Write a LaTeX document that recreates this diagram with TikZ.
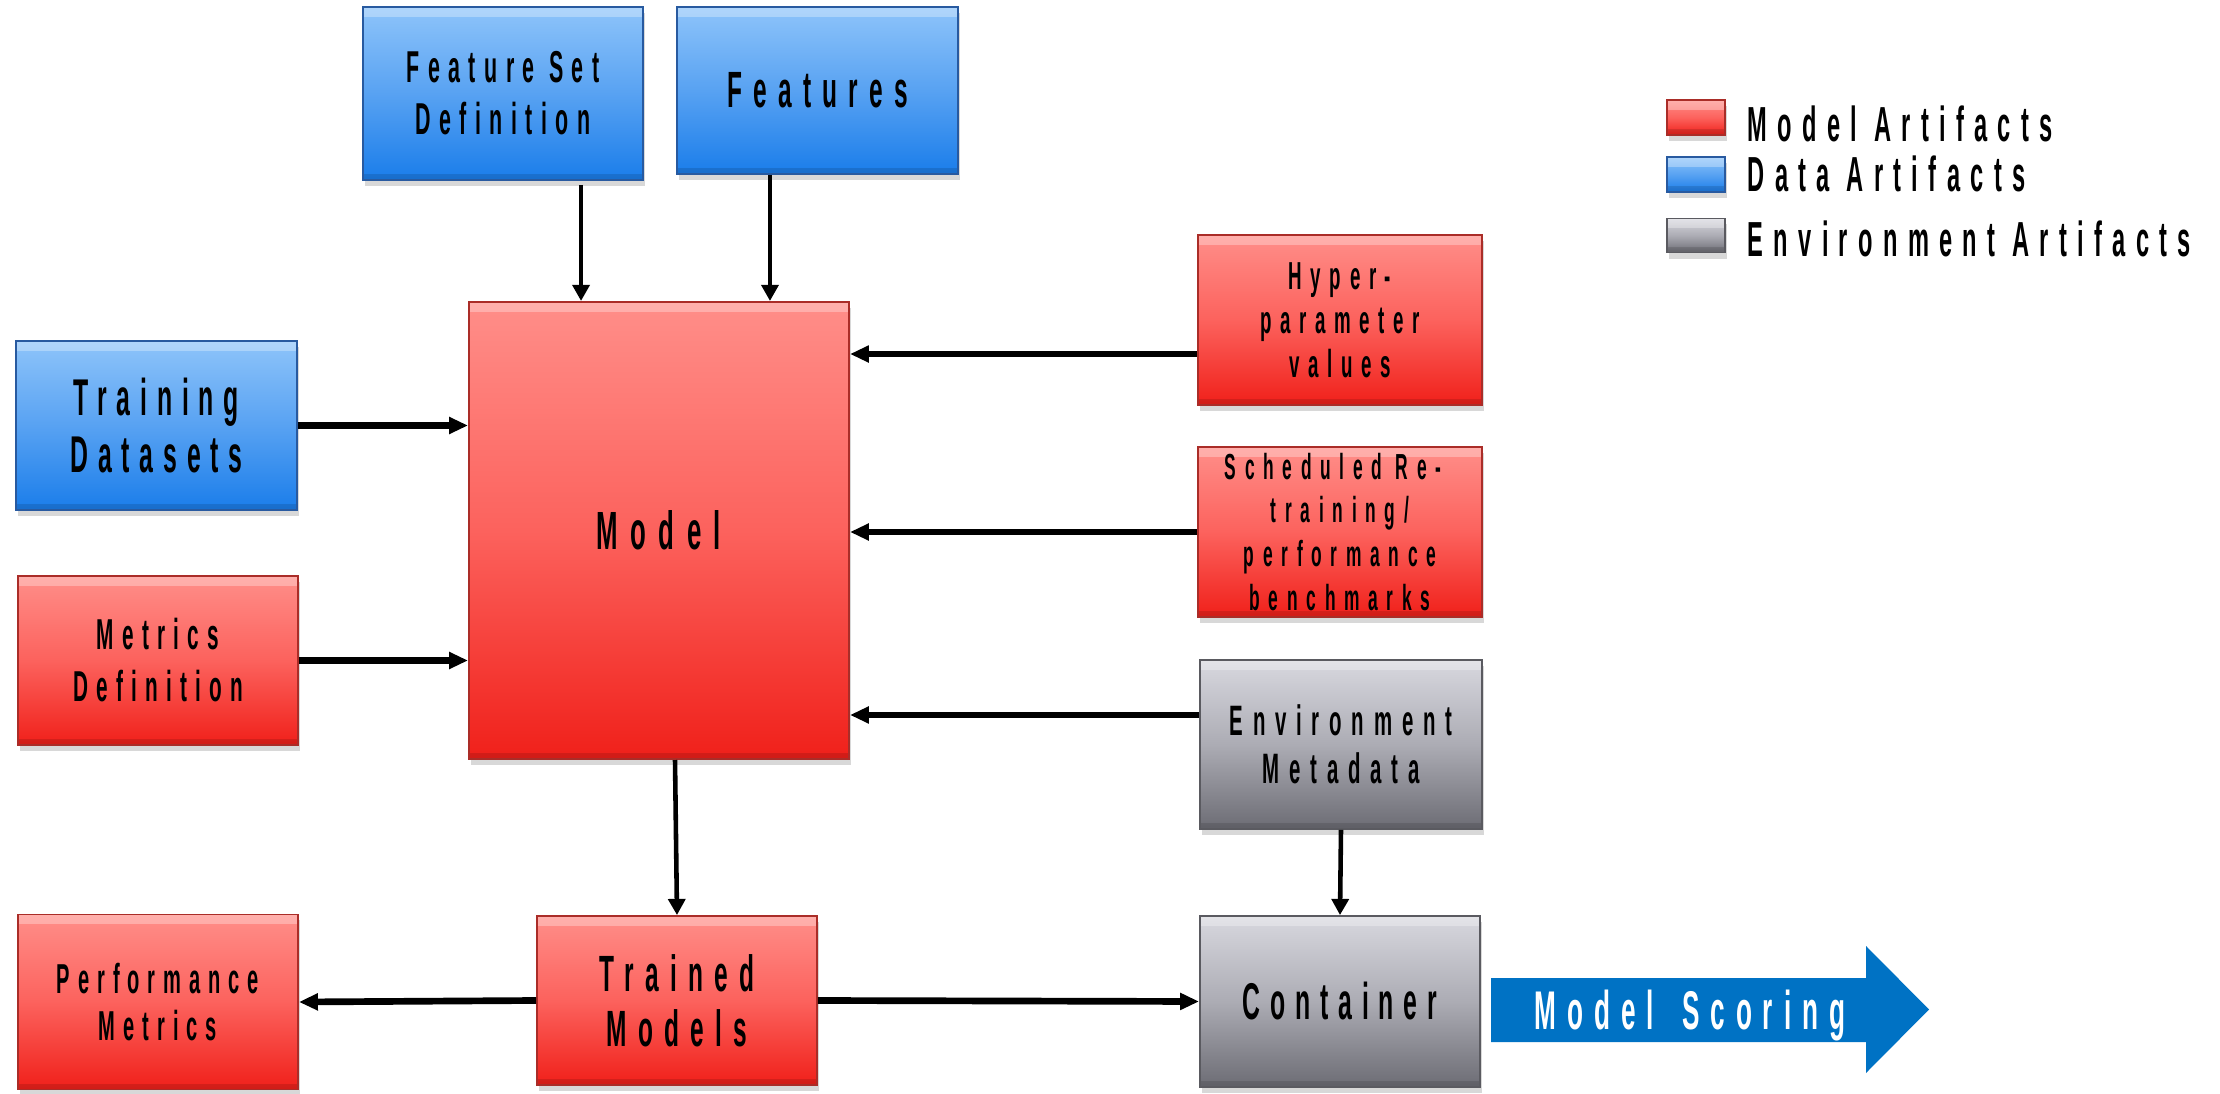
\documentclass[tikz,border=0pt]{standalone}
\usepackage{fontspec}
% narrow, widely tracked sans for all labels
\newfontfamily\agency{Liberation Sans Bold}[FakeStretch=0.48, LetterSpace=19]
\usetikzlibrary{arrows.meta, shadows}

\definecolor{redtop}{RGB}{255,142,137}
\definecolor{redmid}{RGB}{252,98,93}
\definecolor{redbot}{RGB}{240,32,26}
\definecolor{redline}{RGB}{170,45,40}
\definecolor{bluetop}{RGB}{142,196,250}
\definecolor{bluemid}{RGB}{88,162,242}
\definecolor{bluebot}{RGB}{26,125,234}
\definecolor{blueline}{RGB}{40,90,160}
\definecolor{greytop}{RGB}{216,216,223}
\definecolor{greymid}{RGB}{172,172,180}
\definecolor{greybot}{RGB}{108,108,116}
\definecolor{greyline}{RGB}{90,90,96}
\definecolor{scoreblue}{RGB}{0,114,196}

\newcommand{\artfont}[2]{\agency\fontsize{#1}{#2}\selectfont}
\newcommand{\track}[1]{\addfontfeature{LetterSpace=#1}}

\tikzset{
  artifact/.style={rectangle, inner sep=0pt, align=center, text=black, line width=0.5pt,
    drop shadow={shadow xshift=0.02cm, shadow yshift=-0.06cm, opacity=0.3},
    path picture={
      \fill[white, opacity=0.3] (path picture bounding box.north west)
        rectangle ([yshift=-0.1cm]path picture bounding box.north east);
      \fill[black, opacity=0.12] (path picture bounding box.south west)
        rectangle ([yshift=0.06cm]path picture bounding box.south east);
    }},
  modelart/.style={artifact, top color=redtop, bottom color=redbot, middle color=redmid, draw=redline},
  dataart/.style={artifact, top color=bluetop, bottom color=bluebot, middle color=bluemid, draw=blueline},
  envart/.style={artifact, top color=greytop, bottom color=greybot, middle color=greymid, draw=greyline},
  flowv/.style={line width=1.3pt, -{Triangle[length=4.6pt,width=4.8pt]}},
  flowh/.style={line width=1.9pt, -{Triangle[length=5.4pt,width=4.6pt]}},
  legtext/.style={anchor=base west, inner sep=0pt, font={\artfont{14}{15}\track{21}}}
}

\begin{document}
\begin{tikzpicture}[x=0.01cm, y=-0.01cm]
\useasboundingbox (0,0) rectangle (2220,1094);
\fill[white] (0,0) rectangle (2220,1094);

% data inputs on top
\node[dataart, minimum width=2.80cm, minimum height=1.73cm, font=\artfont{12.7}{14.8}]
  (fsd) at (503,93.5) {Feature Set\\Definition};
\node[dataart, minimum width=2.81cm, minimum height=1.67cm, font={\artfont{14.5}{16}\track{22}}]
  (feat) at (817.5,90.5) {Features};

% central model
\node[modelart, minimum width=3.80cm, minimum height=4.57cm, font={\artfont{15.3}{16}\track{23}}]
  (model) at (659,530.5) {Model};

% left inputs
\node[dataart, minimum width=2.81cm, minimum height=1.69cm, font=\artfont{14.7}{16.2}]
  (train) at (156.5,425.5) {Training\\Datasets};
\node[modelart, minimum width=2.80cm, minimum height=1.69cm, font=\artfont{12.3}{14.8}]
  (metrics) at (158,660.5) {Metrics\\Definition};

% right inputs
\node[modelart, minimum width=2.84cm, minimum height=1.70cm, font={\artfont{11.1}{12.5}\track{22}}]
  (hyper) at (1340,320) {Hyper-\\parameter\\values};
\node[modelart, minimum width=2.84cm, minimum height=1.70cm, font={\artfont{10.3}{12.5}\track{24}}]
  (sched) at (1340,532) {\hspace*{-0.14cm}Scheduled Re-\\training/\\performance\\benchmarks};
\node[envart, minimum width=2.82cm, minimum height=1.69cm, font={\artfont{12.1}{13.7}\track{23}}]
  (env) at (1341,744.5) {Environment\\Metadata};

% bottom row
\node[modelart, minimum width=2.80cm, minimum height=1.75cm, font=\artfont{11.9}{13.4}]
  (perf) at (158,1002) {Performance\\Metrics};
\node[modelart, minimum width=2.80cm, minimum height=1.69cm, font={\artfont{14.5}{15.6}\track{22}}]
  (trained) at (677,1000.5) {Trained\\Models};
\node[envart, minimum width=2.80cm, minimum height=1.71cm, font=\artfont{14.7}{16}]
  (container) at (1340,1001.5) {Container};

% scoring arrow
\fill[scoreblue] (1491,978) -- (1866,978) -- (1866,946) -- (1929,1009.5)
  -- (1866,1073) -- (1866,1042) -- (1491,1042) -- cycle;
\node[anchor=base, inner sep=0pt, text=white, font={\artfont{15.5}{16}\track{20}}]
  (scoring) at (1690,1029) {Model \hspace{0.1cm}Scoring};

% connectors
\draw[flowv] ([xshift=0.78cm,yshift=-0.04cm]fsd.south) -- ([xshift=0.78cm]fsd.south |- model.north);
\draw[flowv] ([xshift=-0.475cm]feat.south) -- ([xshift=-0.475cm]feat.south |- model.north);
\draw[flowh] (train.east) -- (train.east -| model.west);
\draw[flowh] (metrics.east) -- (metrics.east -| model.west);
\draw[flowh] ([yshift=-0.34cm]hyper.west) -- ([yshift=-0.34cm]hyper.west -| model.east);
\draw[flowh] (sched.west) -- (sched.west -| model.east);
\draw[flowh] ([yshift=0.295cm]env.west) -- ([yshift=0.295cm]env.west -| model.east);
\draw[flowv] (env.south) -- (container.north);
\draw[flowv] ([xshift=0.16cm]model.south) -- (trained.north);
\draw[flowh] (trained.west) -- (perf.east);
\draw[flowh] (trained.east) -- (container.west);

% legend
\node[modelart, minimum width=0.58cm, minimum height=0.35cm] (legmodel) at (1696,117.5) {};
\node[dataart, minimum width=0.58cm, minimum height=0.35cm] (legdata) at (1696,174.5) {};
\node[envart, minimum width=0.58cm, minimum height=0.34cm] (legenv) at (1696,235.5) {};
\node[legtext] (legmodeltxt) at (1747,142) {Model Artifacts};
\node[legtext] (legdatatxt) at (1747,192) {Data Artifacts};
\node[legtext] (legenvtxt) at (1747,257) {Environment Artifacts};
\end{tikzpicture}
\end{document}
